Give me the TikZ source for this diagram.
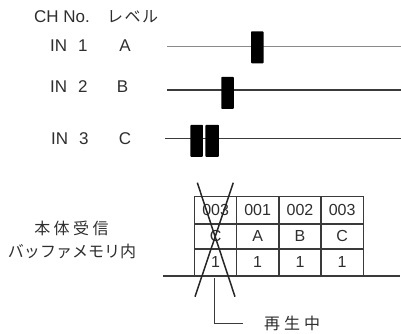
\documentclass[tikz,border=0pt]{standalone}
\usepackage{fontspec}
\setmainfont{Liberation Sans}
\newfontfamily\jp{Noto Sans CJK JP}
\newfontfamily\jpw[LetterSpace=22]{Noto Sans CJK JP}
\definecolor{txt}{HTML}{2E2E2E}
\definecolor{ln}{HTML}{3A3A3A}
\definecolor{lnlight}{HTML}{8A8A8A}
\begin{document}
\begin{tikzpicture}[x=1pt,y=-1pt,
  lab/.style={text=txt,font=\fontsize{17}{18}\selectfont,inner sep=0pt},
  jlab/.style={text=txt,font=\jp\fontsize{16}{18}\selectfont,inner sep=0pt},
  jwlab/.style={text=txt,font=\jpw\fontsize{16}{18}\selectfont,inner sep=0pt},
  blk/.style={fill=black,draw=none,minimum width=12.5pt,minimum height=32pt,inner sep=0pt,rounded corners=0.8pt},
  sig/.style={draw=ln,line width=1.3pt},
  cell/.style={draw=ln,line width=1.3pt,anchor=north west,minimum width=42pt,inner sep=0pt,text=txt,font=\fontsize{16}{17}\selectfont},
  cross/.style={draw=black!85,line width=1.5pt}]
\useasboundingbox (0,0) rectangle (401,333);
% headers
\node[lab,anchor=west] (ch) at (34,16.3) {CH No.};
\node[jlab,anchor=west] (lv) at (107,16.3) {レ\hspace{1.5pt}ベ\hspace{1.5pt}ル};
% channel labels
\node[lab,anchor=west] (in1) at (50,46) {IN\hspace{11pt}1};
\node[lab] (a) at (125,46) {A};
\node[lab,anchor=west] (in2) at (50,86.7) {IN\hspace{11pt}2};
\node[lab] (b) at (122.5,86.7) {B};
\node[lab,anchor=west] (in3) at (51,139) {IN\hspace{11pt}3};
\node[lab] (c) at (125,139) {C};
% signal lines
\coordinate (s1) at (167,46.7); \coordinate (e1) at (401,46.7);
\coordinate (s2) at (167,90); \coordinate (e2) at (401,90);
\coordinate (s3) at (165,138.3); \coordinate (e3) at (401,138.3);
\draw[sig,draw=lnlight] (s1) -- (e1);
\draw[sig] (s2) -- (e2);
\draw[sig] (s3) -- (e3);
\node[blk] (p1) at (257.3,47.3) {};
\node[blk] (p2) at (227.5,92.8) {};
\node[blk] (p3a) at (196.7,140.8) {};
\node[blk,minimum width=13.5pt] (p3b) at (212.2,140.8) {};
% left caption
\node[jlab] (hon) at (71.5,228) {本\hspace{3.5pt}体\hspace{3.5pt}受\hspace{3.5pt}信};
\node[jlab] (buf) at (72,251.5) {バッファメモリ内};
% table
\foreach \i/\x/\n/\l in {0/194/003/C,1/236/001/A,2/278.3/002/B,3/320.5/003/C}{
  \node[cell,minimum height=27.3pt] (r1c\i) at (\x,196) {\n};
  \node[cell,minimum height=25pt] (r2c\i) at (\x,223.3) {\l};
  \node[cell,minimum height=26.7pt] (r3c\i) at (\x,248.3) {1};
}
% base line
\coordinate (bl) at (163,276); \coordinate (br) at (400,276);
\draw[sig] (bl) -- (br);
% cross
\coordinate (x1) at (197.3,182.7); \coordinate (x2) at (235,296.7);
\coordinate (x3) at (233.3,182.7); \coordinate (x4) at (195,296.7);
\draw[cross] (x1) -- (x2);
\draw[cross] (x3) -- (x4);
% callout
\coordinate (k0) at (214.3,278); \coordinate (k1) at (214.3,323.3); \coordinate (k2) at (243,323.3);
\draw[draw=ln,line width=1.1pt] (k0) -- (k1) -- (k2);
\node[jlab,anchor=west] (play) at (264,323) {再\hspace{4pt}生\hspace{4pt}中};
\end{tikzpicture}
\end{document}
